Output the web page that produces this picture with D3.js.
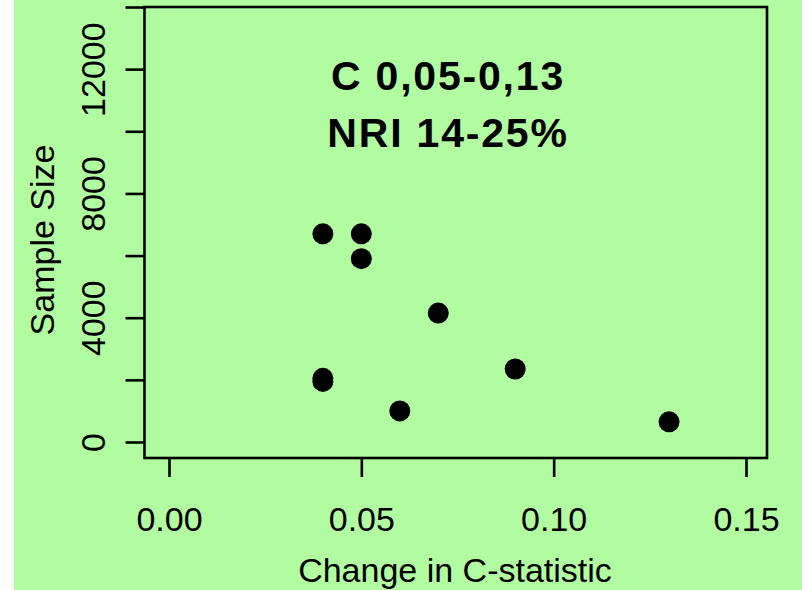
<!DOCTYPE html>
<html>
<head>
<meta charset="utf-8">
<script src="https://cdn.jsdelivr.net/npm/d3@7"></script>
<style>
  body { margin: 0; background: #fff; }
  svg { display: block; }
  text { font-family: "Liberation Sans", Arial, sans-serif; fill: #000; }
</style>
</head>
<body>
<div id="chart"></div>
<script>
// change in C-statistic
var cChange = [0.04, 0.05, 0.05, 0.07, 0.04, 0.04, 0.06, 0.09, 0.13];
// sample size
var sampleSize = [6700, 6700, 5900, 4150, 1950, 2050, 1000, 2350, 650];

var xTicks = [0, 0.05, 0.10, 0.15];
var yTicks = [0, 2000, 4000, 6000, 8000, 10000, 12000, 14000];
var yLabelled = [0, 4000, 8000, 12000];
var notes = ["C 0,05-0,13", "NRI 14-25%"];

var W = 802, H = 590;

var svg = d3.select("#chart")
  .append("svg")
    .attr("width", W)
    .attr("height", H);

// green panel
svg.append("rect")
  .attr("x", 14).attr("y", 0)
  .attr("width", W - 14).attr("height", H)
  .attr("fill", "#b1fba1");

var x = d3.scaleLinear().domain([0, 0.15]).range([169, 746]);
var y = d3.scaleLinear().domain([0, 14000]).range([442, 7]);

// plot box
var box = {left: 144.5, right: 767, top: 7, bottom: 458};
svg.append("rect")
  .attr("x", box.left).attr("y", box.top)
  .attr("width", box.right - box.left)
  .attr("height", box.bottom - box.top)
  .attr("fill", "none")
  .attr("stroke", "#000")
  .attr("stroke-width", 2.6);

// x axis
var xAxis = svg.append("g")
  .attr("transform", "translate(0," + box.bottom + ")")
  .call(d3.axisBottom(x).tickValues(xTicks).tickSize(19).tickPadding(30)
    .tickFormat(d3.format(".2f")));
xAxis.select(".domain").remove();
xAxis.selectAll("line").attr("stroke-width", 2.6);
xAxis.selectAll("text")
  .attr("font-size", 34)
  .attr("font-family", "Liberation Sans, Arial, sans-serif");

// y axis
var yAxis = svg.append("g")
  .attr("transform", "translate(" + box.left + ",0)")
  .call(d3.axisLeft(y).tickValues(yTicks).tickSize(19).tickPadding(0)
    .tickFormat(function(d) { return yLabelled.indexOf(d) >= 0 ? d : ""; }));
yAxis.select(".domain").remove();
yAxis.selectAll("line").attr("stroke-width", 2.6);
yAxis.selectAll("text")
  .attr("font-size", 34)
  .attr("font-family", "Liberation Sans, Arial, sans-serif")
  .attr("text-anchor", "middle")
  .attr("x", 0)
  .attr("transform", "translate(-52,0) rotate(-90)")
  .attr("dy", "0.36em");

// axis titles
svg.append("text")
  .attr("x", 455).attr("y", 582)
  .attr("text-anchor", "middle")
  .attr("font-size", 34)
  .text("Change in C-statistic");

svg.append("text")
  .attr("transform", "translate(54,240) rotate(-90)")
  .attr("text-anchor", "middle")
  .attr("font-size", 34)
  .text("Sample Size");

// points
svg.selectAll("circle.pt")
  .data(cChange.map(function(d, i) { return {cx: d, n: sampleSize[i]}; }))
  .enter()
  .append("circle")
    .attr("class", "pt")
    .attr("cx", function(d) { return x(d.cx); })
    .attr("cy", function(d) { return y(d.n); })
    .attr("r", 10.5)
    .attr("fill", "#000");

// annotation
svg.selectAll("text.note")
  .data(notes)
  .enter()
  .append("text")
    .attr("class", "note")
    .attr("x", 448)
    .attr("y", function(d, i) { return 90 + i * 57; })
    .attr("text-anchor", "middle")
    .attr("font-size", 41)
    .attr("font-weight", "bold")
    .attr("letter-spacing", 1.8)
    .text(function(d) { return d; });
</script>
</body>
</html>
